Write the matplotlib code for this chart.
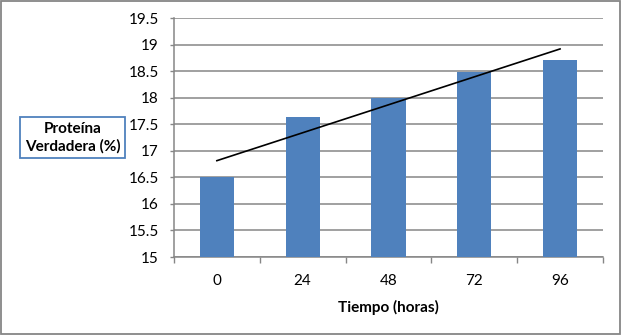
import numpy as np
import matplotlib
matplotlib.use("Agg")
import matplotlib.pyplot as plt
from matplotlib.patches import Rectangle

plt.rcParams['font.family'] = ['Lato', 'DejaVu Sans']

# Data
horas = ['0', '24', '48', '72', '96']
proteina = [16.5, 17.64, 18.0, 18.48, 18.71]
y_ticks = [15, 15.5, 16, 16.5, 17, 17.5, 18, 18.5, 19, 19.5]
y_labels = ['15', '15.5', '16', '16.5', '17', '17.5', '18', '18.5', '19', '19.5']

bar_color = '#4F81BD'
grid_color = '#868686'

fig = plt.figure(figsize=(6.22, 3.35), dpi=100)
ax = fig.add_axes([0.2797, 0.2328, 0.6897, 0.7134])

x = np.arange(len(horas))
ax.bar(x, proteina, width=0.4, color=bar_color, zorder=3)

# linear trend line (least squares fit, like Excel)
slope, intercept = np.polyfit(x, proteina, 1)
ax.plot(x, slope * x + intercept, color='black', lw=1.2, zorder=4)

ax.set_xlim(-0.5, len(horas) - 0.5)
ax.set_ylim(15, 19.5)
ax.set_yticks(y_ticks)
ax.set_yticklabels(y_labels)
ax.yaxis.grid(True, color=grid_color, lw=1.1, zorder=0)
ax.set_axisbelow(True)

# category labels centered, tick marks at category boundaries
ax.set_xticks(x)
ax.set_xticklabels(horas)
ax.set_xticks(np.arange(-0.5, len(horas)), minor=True)
ax.tick_params(axis='x', which='major', length=0, pad=12, labelsize=11)
ax.tick_params(axis='x', which='minor', length=4, width=1, color=grid_color, direction='out')
ax.tick_params(axis='y', length=3, width=1, color=grid_color, pad=8, labelsize=11)

for side in ['top', 'right']:
    ax.spines[side].set_visible(False)
for side in ['left', 'bottom']:
    ax.spines[side].set_color(grid_color)
    ax.spines[side].set_linewidth(1.1)

ax.set_xlabel('Tiempo (horas)', fontsize=11, fontweight='bold', labelpad=9)

# y label in its own framed box
fig.text(0.1166, 0.5896, 'Proteína\nVerdadera (%)', fontsize=11, fontweight='bold',
         ha='center', va='center', multialignment='center', linespacing=1.3,
         bbox=dict(boxstyle='square,pad=0.3', facecolor='white',
                   edgecolor=bar_color, linewidth=1.3))

# outer chart frame
fig.patches.append(Rectangle((0.002, 0.003), 0.995, 0.993, transform=fig.transFigure,
                             fill=False, edgecolor=grid_color, linewidth=1.3))

fig.savefig('out.png', dpi=100)
